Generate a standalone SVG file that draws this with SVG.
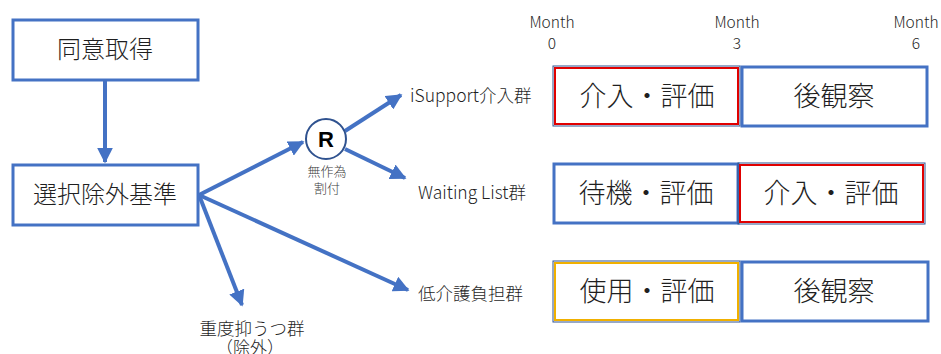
<svg xmlns="http://www.w3.org/2000/svg" width="941" height="354" viewBox="0 0 941 354">
<style>
text{font-family:"Noto Sans CJK JP","Noto Sans",sans-serif;font-weight:300;fill:#1f1f1f;text-anchor:middle}
.box{fill:#fff;stroke:#4472C4;stroke-width:3}
.big{font-size:24px}
.cell{font-size:27px}
.lbl{font-size:17.5px;text-anchor:start}
.mon{font-size:15.5px}
.red{fill:none;stroke:#E00000;stroke-width:2}
.gold{fill:none;stroke:#F0B000;stroke-width:2}
.thin{fill:none;stroke:#2F528F;stroke-width:1}
.con{stroke:#4472C4;stroke-width:4;fill:none;marker-end:url(#ah)}
</style>
<defs>
<marker id="ah" viewBox="0 0 10 10" refX="9" refY="5" markerWidth="4" markerHeight="4" orient="auto" markerUnits="strokeWidth">
<path d="M0,0 L10,5 L0,10 Z" fill="#4472C4"/>
</marker>
</defs>
<g id="connectors">
<line class="con" x1="105" y1="80" x2="105" y2="162"/>
<line class="con" x1="199" y1="195" x2="303" y2="142"/>
<line class="con" x1="199" y1="195" x2="242" y2="305"/>
<line class="con" x1="199" y1="195" x2="408" y2="290"/>
<line class="con" x1="345" y1="131" x2="401" y2="95"/>
<line class="con" x1="345" y1="149" x2="405" y2="178"/>
</g>
<g id="consent"><rect class="box" x="13" y="20" width="185" height="60"/><text class="big" x="105" y="58">同意取得</text></g>
<g id="criteria"><rect class="box" x="13" y="165" width="185" height="60"/><text class="big" x="105" y="203">選択除外基準</text></g>
<g id="random"><circle cx="326" cy="139" r="20" fill="#fff" stroke="#2F528F" stroke-width="2"/><text x="326" y="147" style="font-family:'Liberation Sans',sans-serif;font-weight:bold;font-size:22px;fill:#000">R</text>
<text x="327" y="176" style="font-size:13px;fill:#404040">無作為</text><text x="327" y="193" style="font-size:13px;fill:#404040">割付</text></g>
<g id="isupport"><text class="lbl" x="410" y="102">iSupport介入群</text></g>
<g id="waiting"><text class="lbl" x="418" y="199">Waiting List群</text></g>
<g id="lowburden"><text class="lbl" x="418" y="300">低介護負担群</text></g>
<g id="severe"><text x="252" y="335" style="font-size:17.5px">重度抑うつ群</text><text x="250" y="354" style="font-size:17px">（除外）</text></g>
<g id="months">
<text class="mon" x="552" y="28">Month</text><text class="mon" x="552" y="49">0</text>
<text class="mon" x="737" y="28">Month</text><text class="mon" x="737" y="49">3</text>
<text class="mon" x="916" y="28">Month</text><text class="mon" x="916" y="49">6</text>
</g>
<g id="row1">
<rect class="thin" x="553" y="66" width="187" height="60"/><rect class="red" x="555" y="68" width="183" height="56"/>
<text class="cell" x="647" y="106">介入・評価</text>
<rect class="box" x="742" y="67" width="185" height="59"/><text class="cell" x="834" y="106">後観察</text>
</g>
<g id="row2">
<rect class="box" x="554" y="164" width="184" height="59"/><text class="cell" x="646" y="203">待機・評価</text>
<rect class="thin" x="738" y="163" width="187" height="61"/><rect class="red" x="740" y="165" width="183" height="57"/>
<text class="cell" x="831" y="203">介入・評価</text>
</g>
<g id="row3">
<rect class="thin" x="553" y="261" width="187" height="61"/><rect class="gold" x="555" y="263" width="183" height="57"/>
<text class="cell" x="647" y="301">使用・評価</text>
<rect class="box" x="742" y="262" width="186" height="59"/><text class="cell" x="834" y="301">後観察</text>
</g>
</svg>
